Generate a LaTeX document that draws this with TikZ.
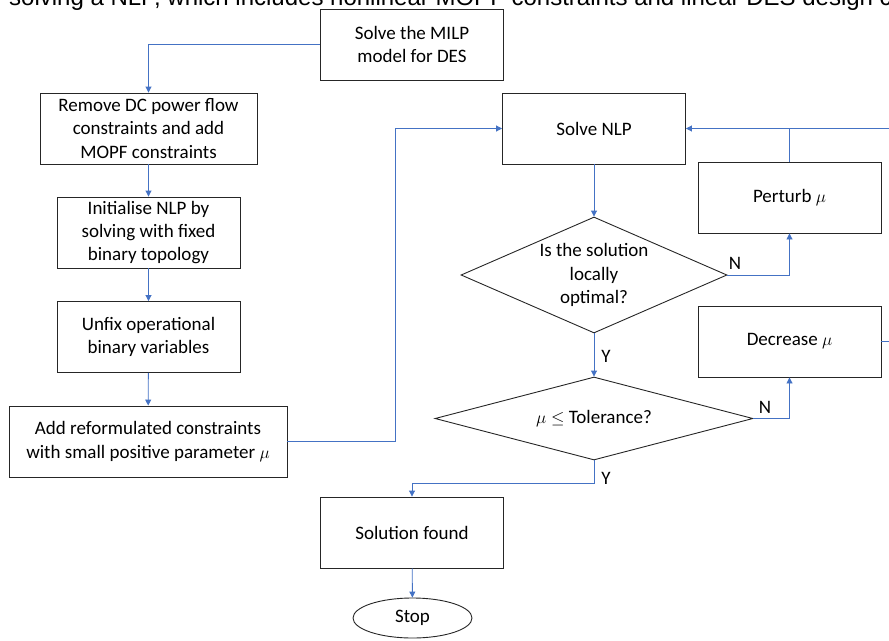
\documentclass[tikz,border=0pt]{standalone}
\usepackage{fontspec}
\setmainfont{Carlito}
\newfontfamily\capfont{Liberation Sans}
\usetikzlibrary{arrows.meta,shapes.geometric}
\definecolor{flow}{HTML}{4472C4}
\definecolor{edge}{HTML}{262626}
\tikzset{
  txt/.style={font=\fontsize{19}{23.3}\selectfont},
  procbox/.style={txt,draw=edge,line width=0.9pt,align=center,inner sep=0pt,
    minimum width=#1,minimum height=71},
  procbox/.default=183,
  decbox/.style={diamond,draw=edge,line width=0.9pt,inner sep=0pt},
  wire/.style={draw=flow,line width=0.9pt},
  link/.style={wire,-{Triangle[length=6pt,width=6pt]}},
  yn/.style={txt,inner sep=0pt},
}

\begin{document}
\begin{tikzpicture}[x=1pt,y=-1pt]
  \useasboundingbox (0,0) rectangle (889,640);
  % cut-off caption above the chart
  \node[anchor=base west,inner sep=0pt,font=\capfont\fontsize{24}{28}\selectfont]
    (caption) at (9,5.5) {solving a NLP, which includes nonlinear MOPF constraints and linear DES design c};

  % left column
  \node[procbox] (milp) at (412,44.5) {Solve the MILP\\model for DES};
  \node[procbox=217] (remove) at (148.5,128.5) {Remove DC power flow\\constraints and add\\MOPF constraints};
  \node[procbox] (init) at (148.5,232.5) {Initialise NLP by\\solving with fixed\\binary topology};
  \node[procbox] (unfix) at (148.5,337) {Unfix operational\\binary variables};
  \node[procbox=278] (add) at (148,441.5) {Add reformulated constraints\\with small positive parameter $\mu$};

  % right column
  \node[procbox] (nlp) at (594,128.5) {Solve NLP};
  \node[decbox,minimum width=266,minimum height=116,
    label={[txt,align=center]center:Is the solution\\locally\\optimal?}] (q1) at (594,275) {};
  \node[decbox,minimum width=318,minimum height=83,
    label={[txt]center:$\mu\leq$ Tolerance?}] (q2) at (594,418.5) {};
  \node[procbox] (perturb) at (789.5,197.5) {Perturb $\mu$};
  \node[procbox] (decrease) at (789.5,341.5) {Decrease $\mu$};
  \node[procbox] (solution) at (412,532.5) {Solution found};
  \node[ellipse,draw=edge,line width=0.9pt,txt,minimum width=119,minimum height=40,inner sep=0pt]
    (stop) at (412.5,618) {Stop};

  \coordinate (bend) at (395,0);
  \coordinate (rightin) at (889,128.5);
  \coordinate (rightout) at (889,341.5);

  % connectors
  \draw[link] (milp.west) -| (remove.north);
  \draw[link] (remove) -- (init);
  \draw[link] (init) -- (unfix);
  \draw[link] (unfix) -- (add);
  \draw[link] (add.east) -- (add.east -| bend) |- (nlp.west);
  \draw[link] (nlp) -- (q1);
  \draw[link] (q1.east) -| (perturb.south);
  \draw[link] (perturb.north) |- (nlp.east);
  \draw[wire] (rightin) -- (perturb.north |- rightin);
  \draw[link] (q1.south) -- (q2.north);
  \draw[link] (q2.east) -| (decrease.south);
  \draw[wire] (decrease.east) -- (rightout);
  \draw[link] (q2.south) -- ++(0,23) -| (solution.north);
  \draw[link] (solution) -- (stop);

  % branch labels
  \node[yn] (n1) at (735,263) {N};
  \node[yn] (y1) at (606,356) {Y};
  \node[yn] (n2) at (765,407) {N};
  \node[yn] (y2) at (606,478) {Y};
\end{tikzpicture}
\end{document}
